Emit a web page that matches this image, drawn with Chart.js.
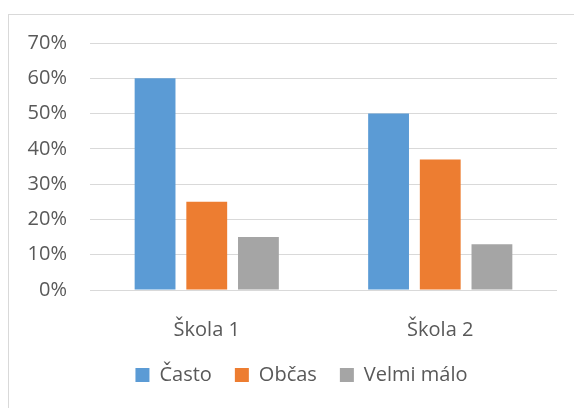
<!DOCTYPE html>
<html>
<head>
<meta charset="utf-8">
<script src="https://cdn.jsdelivr.net/npm/chart.js@4"></script>
<style>
  html, body { margin: 0; padding: 0; background: #fff; }
  #wrap { position: relative; width: 574px; height: 408px; overflow: hidden; }
  #frame { position: absolute; left: 8px; top: 14px; width: 600px; height: 420px; border: 1px solid #d9d9d9; box-sizing: border-box; }
  canvas { position: absolute; left: 0; top: 0; }
</style>
</head>
<body>
<div id="wrap">
  <div id="frame"></div>
  <canvas id="chart" width="574" height="408"></canvas>
</div>
<script>
// data
const skoly = ['Škola 1', 'Škola 2'];
const casto = [60, 50];
const obcas = [25, 37];
const velmiMalo = [15, 13];
const yTicks = [0, 10, 20, 30, 40, 50, 60, 70];

const textColor = '#595959';
const font = { family: '"Open Sans", sans-serif', size: 20 };

// legenda je v originale posunuta trochu doprava
const legendShift = {
    id: 'legendShift',
    afterLayout(chart) {
        if (chart.legend) chart.legend.left = 46;
    }
};

const ctx = document.getElementById('chart').getContext('2d');
new Chart(ctx, {
    type: 'bar',
    data: {
        labels: skoly,
        datasets: [
            { label: 'Často', data: casto, backgroundColor: '#5B9BD5' },
            { label: 'Občas', data: obcas, backgroundColor: '#ED7D31' },
            { label: 'Velmi málo', data: velmiMalo, backgroundColor: '#A5A5A5' }
        ]
    },
    plugins: [legendShift],
    options: {
        responsive: false,
        animation: false,
        categoryPercentage: 0.664,
        barPercentage: 0.79,
        layout: { padding: { left: 0, right: 17, top: 43, bottom: 13 } },
        plugins: {
            tooltip: { enabled: false },
            legend: {
                position: 'bottom',
                labels: {
                    boxWidth: 14,
                    boxHeight: 14,
                    padding: 23,
                    color: textColor,
                    font: font
                }
            }
        },
        scales: {
            x: {
                grid: { display: false },
                border: { display: false },
                ticks: { color: textColor, font: font, padding: 20 },
                afterFit: (axis) => { axis.height = 52; }
            },
            y: {
                min: yTicks[0],
                max: yTicks[yTicks.length - 1],
                border: { display: false },
                grid: { color: '#d9d9d9', lineWidth: 1, drawTicks: false },
                ticks: {
                    stepSize: 10,
                    padding: 23,
                    color: textColor,
                    font: font,
                    callback: (v) => v + '%'
                },
                afterFit: (axis) => { axis.width = 90; }
            }
        }
    }
});
</script>
</body>
</html>
